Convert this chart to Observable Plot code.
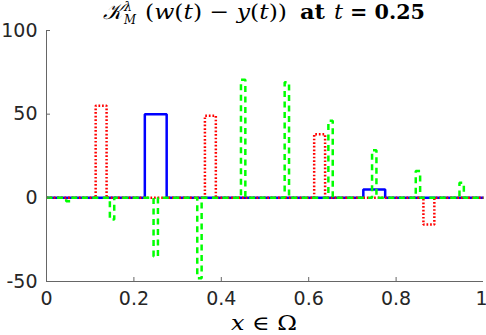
<!DOCTYPE html>
<html><head><meta charset="utf-8">
<script src="https://cdn.jsdelivr.net/npm/d3@7"></script>
<script src="https://cdn.jsdelivr.net/npm/@observablehq/plot@0.6"></script>
<style>html,body{margin:0;padding:0;background:#fff} svg{display:block}</style>
</head><body><div id="chart"></div>
<script>
// Pulses of each piecewise-constant series (start, end, height)
const blueStart = [0.225, 0.725];
const blueEnd   = [0.275, 0.775];
const blueValue = [50, 5];

const redStart = [0.1125, 0.3625, 0.6125, 0.8625];
const redEnd   = [0.1375, 0.3875, 0.6375, 0.8875];
const redValue = [55, 49, 38, -16];

const greenStart = [0.045, 0.145, 0.245, 0.345, 0.445, 0.545, 0.645, 0.745, 0.845, 0.945];
const greenEnd   = [0.055, 0.155, 0.255, 0.355, 0.455, 0.555, 0.655, 0.755, 0.855, 0.955];
const greenValue = [-2, -13, -35, -48, 70.5, 69, 46, 28.5, 16, 9];

const xTicks = [0, 0.2, 0.4, 0.6, 0.8, 1];
const xTickLabels = ["0", "0.2", "0.4", "0.6", "0.8", "1"];
const yTicks = [-50, 0, 50, 100];
const yTickLabels = ["-50", "0", "50", "100"];

function steps(starts, ends, values) {
  const pts = [{x: 0, y: 0}];
  starts.forEach((s, i) => {
    pts.push({x: s, y: 0}, {x: s, y: values[i]}, {x: ends[i], y: values[i]}, {x: ends[i], y: 0});
  });
  pts.push({x: 1, y: 0});
  return pts;
}
const blue = steps(blueStart, blueEnd, blueValue);
const red = steps(redStart, redEnd, redValue);
const green = steps(greenStart, greenEnd, greenValue);

const axisColor = "#666";
const xFmt = (d) => xTickLabels[xTicks.indexOf(d)];
const chart = Plot.plot({
  width: 486, height: 335,
  marginLeft: 46, marginRight: 3, marginTop: 30, marginBottom: 54,
  x: {domain: [0, 1]},
  y: {domain: [-50, 100]},
  style: {fontFamily: "DejaVu Sans", background: "#fff", color: "#262626"},
  marks: [
    Plot.line(blue, {x: "x", y: "y", stroke: "#0000ff", strokeWidth: 2.5, strokeLinejoin: "miter", strokeLinecap: "butt"}),
    Plot.line(red, {x: "x", y: "y", stroke: "#ff0000", strokeWidth: 2.5, strokeDasharray: "1.7,1.9",
      strokeLinejoin: "miter", strokeLinecap: "butt"}),
    Plot.line(green, {x: "x", y: "y", stroke: "#00ff00", strokeWidth: 2.5, strokeDasharray: "6,4.5",
      strokeLinejoin: "miter", strokeLinecap: "butt"}),
    Plot.ruleX([0], {stroke: axisColor, strokeWidth: 1}),
    Plot.ruleY([-50], {stroke: axisColor, strokeWidth: 1}),
    Plot.axisX({ticks: xTicks.slice(0, -1), tickFormat: xFmt, tickSize: -4, stroke: axisColor,
      fontSize: 19, tickPadding: 14, label: null}),
    Plot.axisX({ticks: xTicks.slice(-1), tickFormat: xFmt, tickSize: -4, stroke: axisColor,
      fontSize: 19, tickPadding: 14, label: null, textAnchor: "end", dx: 4}),
    Plot.axisY({ticks: yTicks, tickFormat: (d) => yTickLabels[yTicks.indexOf(d)], tickSize: -4, stroke: axisColor,
      fontSize: 19, tickPadding: 13, label: null})
  ]
});
document.getElementById("chart").appendChild(chart);

const svg = d3.select(chart);
const serif = "DejaVu Serif, Liberation Serif, serif";
function piece(x, y, size, len) {
  const t = svg.append("text").attr("x", x).attr("y", y).attr("text-anchor", "start")
    .attr("font-family", serif).attr("font-size", size).attr("fill", "#000");
  if (len) t.attr("textLength", len).attr("lengthAdjust", "spacingAndGlyphs");
  return t;
}
piece(103, 19, 22, 19).attr("font-style", "italic").text("𝒦");
piece(124, 11, 13, 8).attr("font-style", "italic").text("λ");
piece(124, 24, 12, 12).attr("font-style", "italic").text("M");
const mid = piece(145, 19, 21, 142);
mid.append("tspan").text("(");
mid.append("tspan").attr("font-style", "italic").text("w");
mid.append("tspan").text("(");
mid.append("tspan").attr("font-style", "italic").text("t");
mid.append("tspan").text(") − ");
mid.append("tspan").attr("font-style", "italic").text("y");
mid.append("tspan").text("(");
mid.append("tspan").attr("font-style", "italic").text("t");
mid.append("tspan").text("))");
piece(300, 19, 20, 25).attr("font-weight", "bold").text("at");
piece(334, 19, 20, 9).attr("font-style", "italic").text("t");
piece(350, 19, 20, 75).attr("font-weight", "bold").text("= 0.25");

const xl = piece(231, 330, 20, 66);
xl.append("tspan").attr("font-style", "italic").text("x");
xl.append("tspan").text(" ∈ Ω");
</script>
</body></html>
